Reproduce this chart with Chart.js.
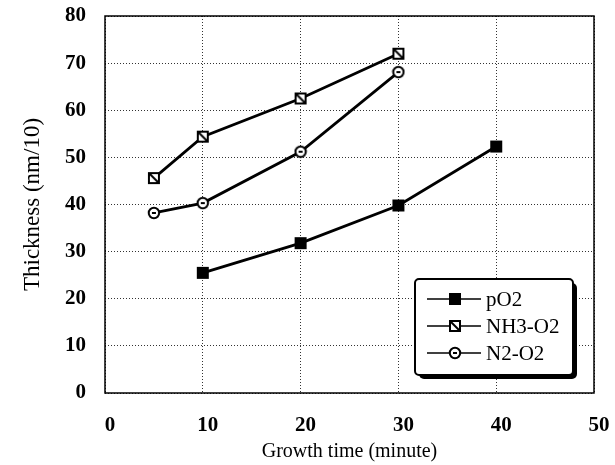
<!DOCTYPE html>
<html>
<head>
<meta charset="utf-8">
<script src="https://cdn.jsdelivr.net/npm/chart.js@4.4.1/dist/chart.umd.min.js"></script>
<style>
  html, body { margin: 0; padding: 0; background: #fff; }
  #wrap { width: 615px; height: 465px; }
</style>
</head>
<body>
<div id="wrap"><canvas id="chart" width="615" height="465"></canvas></div>
<script>
// values
const seriesNames = ['pO2', 'NH3-O2', 'N2-O2'];
const pO2Time = [10, 20, 30, 40];
const pO2Thickness = [25.5, 31.8, 39.8, 52.3];
const nh3Time = [5, 10, 20, 30];
const nh3Thickness = [45.6, 54.4, 62.5, 72.0];
const n2Time = [5, 10, 20, 30];
const n2Thickness = [38.2, 40.3, 51.2, 68.1];

const xTicks = [0, 10, 20, 30, 40, 50];
const yTicks = [0, 10, 20, 30, 40, 50, 60, 70, 80];

const serif = '"Liberation Serif", "DejaVu Serif", serif';

function toPoints(xs, ys) {
    return xs.map((x, i) => ({ x: x, y: ys[i] }));
}

// marker images
function makeMarker(kind) {
    const c = document.createElement('canvas');
    c.width = 14;
    c.height = 14;
    const g = c.getContext('2d');
    g.strokeStyle = '#000';
    g.fillStyle = '#000';
    g.lineWidth = 2;
    if (kind === 'filled') {
        g.fillRect(1, 1, 12, 12);
    } else if (kind === 'slash') {
        g.fillStyle = '#fff';
        g.fillRect(2, 2, 10, 10);
        g.strokeRect(2, 2, 10, 10);
        g.beginPath();
        g.moveTo(3, 3);
        g.lineTo(11, 11);
        g.stroke();
    } else {
        g.fillStyle = '#fff';
        g.beginPath();
        g.arc(7, 7, 5.2, 0, Math.PI * 2);
        g.fill();
        g.stroke();
        g.fillStyle = '#000';
        g.fillRect(5, 6, 4, 2);
    }
    return c;
}

const markers = [makeMarker('filled'), makeMarker('slash'), makeMarker('circle')];

const boxPlugin = {
    id: 'boxAndLegend',
    afterDraw(chart) {
        const ctx = chart.ctx;
        const a = chart.chartArea;
        ctx.save();
        ctx.strokeStyle = '#000';
        ctx.lineWidth = 1.5;
        ctx.strokeRect(a.left, a.top, a.right - a.left, a.bottom - a.top);

        // legend box inside the plot, lower right
        const w = 158, h = 96;
        const lx = a.right - 179, ly = a.bottom - 114;
        ctx.fillStyle = '#000';
        ctx.beginPath();
        ctx.roundRect(lx + 4, ly + 4, w, h, 5);
        ctx.fill();
        ctx.fillStyle = '#fff';
        ctx.beginPath();
        ctx.roundRect(lx, ly, w, h, 4);
        ctx.fill();
        ctx.lineWidth = 2;
        ctx.stroke();

        ctx.font = '21px ' + serif;
        ctx.textBaseline = 'middle';
        ctx.textAlign = 'left';
        chart.data.datasets.forEach((ds, i) => {
            const y = ly + 20 + i * 27;
            ctx.lineWidth = 1.5;
            ctx.beginPath();
            ctx.moveTo(lx + 12, y);
            ctx.lineTo(lx + 66, y);
            ctx.stroke();
            const m = ds.pointStyle;
            ctx.drawImage(m, lx + 40 - m.width / 2, y - m.height / 2);
            ctx.fillStyle = '#000';
            ctx.fillText(ds.label, lx + 71, y + 1);
        });
        ctx.restore();
    }
};

const datasetList = [
    { label: seriesNames[0], data: toPoints(pO2Time, pO2Thickness), pointStyle: markers[0] },
    { label: seriesNames[1], data: toPoints(nh3Time, nh3Thickness), pointStyle: markers[1] },
    { label: seriesNames[2], data: toPoints(n2Time, n2Thickness), pointStyle: markers[2] }
].map(d => Object.assign(d, {
    borderColor: '#000',
    backgroundColor: '#000',
    borderWidth: 2.8,
    tension: 0,
    showLine: true
}));

new Chart(document.getElementById('chart'), {
    type: 'scatter',
    data: { datasets: datasetList },
    options: {
        responsive: false,
        animation: false,
        layout: { padding: { left: 0, right: 21, top: 16, bottom: 0 } },
        plugins: {
            legend: { display: false },
            tooltip: { enabled: false }
        },
        scales: {
            x: {
                type: 'linear',
                min: xTicks[0],
                max: xTicks[xTicks.length - 1],
                afterBuildTicks: s => { s.ticks = xTicks.map(v => ({ value: v })); },
                afterFit: s => { s.height = 72; s.paddingLeft = 0; s.paddingRight = 0; },
                grid: { color: '#333', lineWidth: 1, drawTicks: false },
                border: { display: false, dash: [1, 2] },
                ticks: {
                    color: '#000',
                    padding: 20,
                    labelOffset: 5,
                    font: { family: serif, size: 21, weight: 'bold' }
                },
                title: {
                    display: true,
                    text: 'Growth time (minute)',
                    color: '#000',
                    padding: { top: 0, bottom: 1 },
                    font: { family: serif, size: 20 }
                }
            },
            y: {
                type: 'linear',
                min: yTicks[0],
                max: yTicks[yTicks.length - 1],
                afterBuildTicks: s => { s.ticks = yTicks.map(v => ({ value: v })); },
                afterFit: s => { s.width = 105; s.paddingTop = 0; s.paddingBottom = 0; },
                grid: { color: '#333', lineWidth: 1, drawTicks: false },
                border: { display: false, dash: [1, 2] },
                ticks: {
                    color: '#000',
                    padding: 19,
                    font: { family: serif, size: 21, weight: 'bold' }
                },
                title: {
                    display: true,
                    text: 'Thickness (nm/10)',
                    color: '#000',
                    padding: { top: 19, bottom: 0 },
                    font: { family: serif, size: 23 }
                }
            }
        },
        elements: {
            point: { radius: 6 }
        }
    },
    plugins: [boxPlugin]
});
</script>
</body>
</html>
